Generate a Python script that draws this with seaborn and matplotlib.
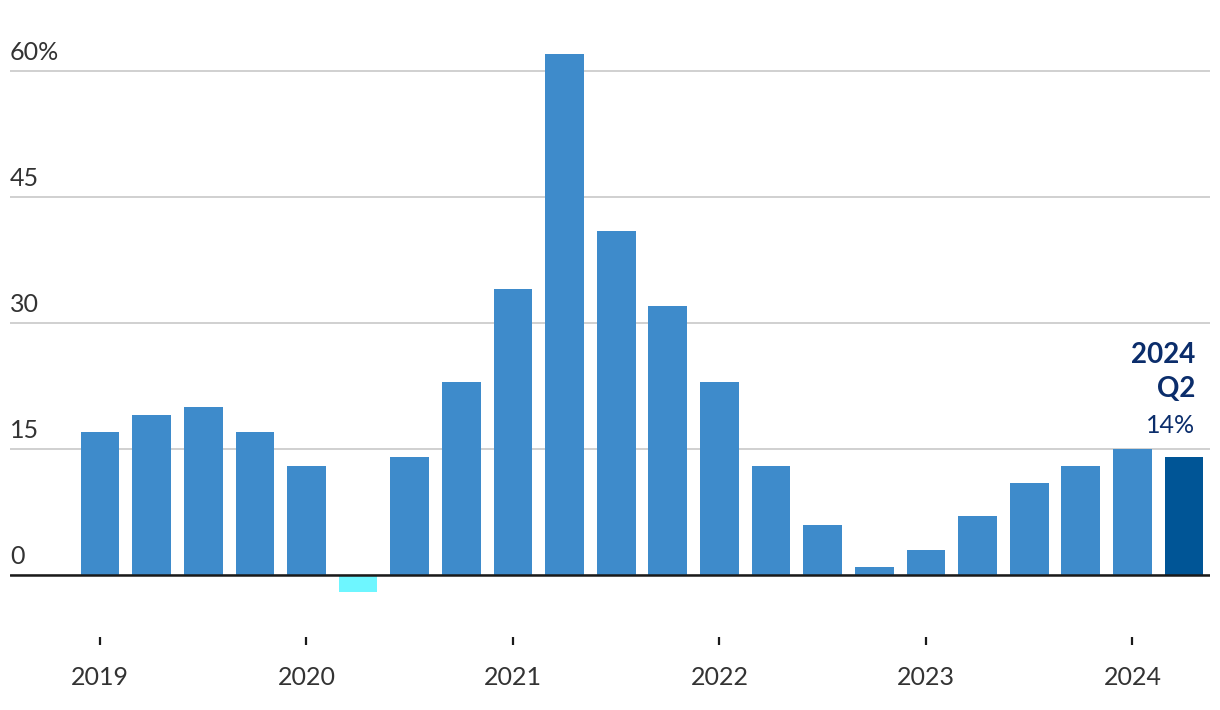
import numpy as np
import pandas as pd
import matplotlib
matplotlib.use("Agg")
import matplotlib.pyplot as plt
import matplotlib.transforms as mtransforms
import seaborn as sns

# data: quarterly values, 2019 Q1 .. 2024 Q2
quarters = [f"{y} Q{q}" for y in range(2019, 2025) for q in range(1, 5)][:22]
values = [17, 19, 20, 17, 13, -2, 14, 23, 34, 62, 41, 32,
          23, 13, 6, 1, 3, 7, 11, 13, 15, 14]
year_labels = ["2019", "2020", "2021", "2022", "2023", "2024"]
y_ticks = [0, 15, 30, 45, 60]
y_tick_labels = ["0", "15", "30", "45", "60%"]

main_blue = "#3e8bcb"
neg_cyan = "#6ef6ff"
last_blue = "#005596"
navy = "#0b2d6b"
text_grey = "#333333"

colors = []
for i, v in enumerate(values):
    if i == len(values) - 1:
        colors.append(last_blue)
    elif v < 0:
        colors.append(neg_cyan)
    else:
        colors.append(main_blue)

df = pd.DataFrame({"quarter": quarters, "value": values})

sns.set_theme(style="white")
plt.rcParams["font.family"] = ["Lato", "DejaVu Sans"]

W, H = 1220, 710
fig = plt.figure(figsize=(W / 100, H / 100), dpi=100)
ax = fig.add_axes([10 / W, 1 - 645 / H, 1200 / W, (645 - 40) / H])

sns.barplot(data=df, x="quarter", y="value", hue="quarter",
            palette=colors, legend=False, width=0.75, saturation=1,
            linewidth=0, ax=ax)

# axis ranges worked out from pixel positions
px = 1084 / 21
ax.set_xlim(-90 / px, 21 + 26 / px)
py = 504 / 60
ax.set_ylim(-(645 - 575) / py, (575 - 40) / py)

for s in ax.spines.values():
    s.set_visible(False)

ax.set_yticks(y_ticks)
ax.set_yticklabels([])
ax.tick_params(axis="y", length=0)
ax.grid(axis="y", color="#d0d0d0", linewidth=1.4)
ax.set_axisbelow(True)
ax.axhline(0, color="#1a1a1a", linewidth=1.8, zorder=3)

trans = mtransforms.blended_transform_factory(ax.transAxes, ax.transData)
for t, lab in zip(y_ticks, y_tick_labels):
    ax.text(0, t + 0.8, lab, transform=trans, ha="left", va="bottom",
            fontsize=18, color=text_grey)

ax.set_xticks(range(0, 22, 4))
ax.set_xticklabels(year_labels, fontsize=18, color=text_grey)
ax.tick_params(axis="x", direction="in", length=6, width=1.6,
               color="#1a1a1a", pad=15, bottom=True)
ax.set_xlabel("")
ax.set_ylabel("")

# end label
last = len(values) - 1
ax.annotate("2024", (last, values[last]), xytext=(8, 74), textcoords="offset points",
            ha="right", va="center", fontsize=20, fontweight="bold", color=navy)
ax.annotate("Q2", (last, values[last]), xytext=(8, 49), textcoords="offset points",
            ha="right", va="center", fontsize=20, fontweight="bold", color=navy)
ax.annotate(f"{values[last]}%", (last, values[last]), xytext=(8, 23),
            textcoords="offset points", ha="right", va="center",
            fontsize=18, color=navy)

fig.savefig("out.png", dpi=100)
